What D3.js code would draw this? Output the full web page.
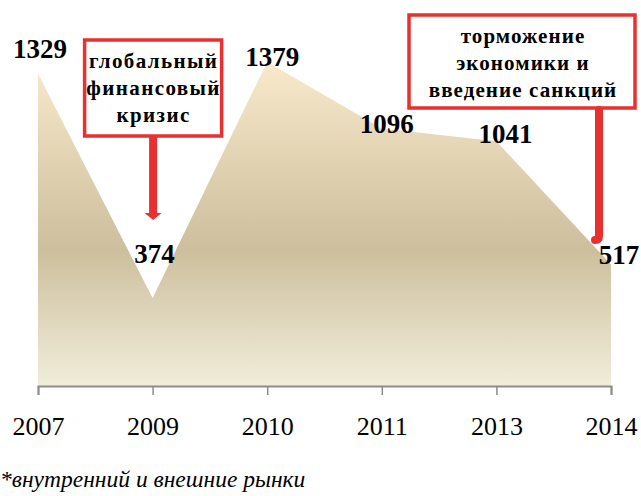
<!DOCTYPE html>
<html>
<head>
<meta charset="utf-8">
<script src="https://cdn.jsdelivr.net/npm/d3@7"></script>
<style>
  body { margin: 0; background: #fff; }
  svg { display: block; }
</style>
</head>
<body>
<script>
// данные
var years = ["2007", "2009", "2010", "2011", "2013", "2014"];
var values = [1329, 374, 1379, 1096, 1041, 517];
// сдвиг подписей значений относительно точки
var labelDx = [2, 2, 5, 5, 9, 8];
var labelDy = [-16, -35, 4, 5, 2, -1];

var callouts = [
  { lines: ["глобальный", "финансовый", "кризис"], year: "2009" },
  { lines: ["торможение", "экономики и", "введение санкций"], year: "2014" }
];
var footnote = "*внутренний и внешние рынки";

const width = 641, height = 496;
const serif = "'Liberation Serif', 'Times New Roman', serif";

var svg = d3.select("body").append("svg")
  .attr("width", width)
  .attr("height", height);

var x = d3.scalePoint().domain(years).range([38, 611]);
var y = d3.scaleLinear().domain([0, 1400]).range([386, 57]);

// градиент заливки
var grad = svg.append("defs").append("linearGradient")
  .attr("id", "fillGrad")
  .attr("gradientUnits", "userSpaceOnUse")
  .attr("x1", 0).attr("x2", 0)
  .attr("y1", y(1379)).attr("y2", y(0));
grad.append("stop").attr("offset", "0%").attr("stop-color", "#f7e9ca");
grad.append("stop").attr("offset", "58%").attr("stop-color", "#cdbf9d");
grad.append("stop").attr("offset", "100%").attr("stop-color", "#f1edda");

var data = years.map((d, i) => ({ year: d, value: values[i], i: i }));

var area = d3.area()
  .x(d => x(d.year))
  .y0(y(0))
  .y1(d => y(d.value));

svg.append("path")
  .datum(data)
  .attr("d", area)
  .attr("fill", "url(#fillGrad)");

// ось X
var xAxis = d3.axisBottom(x).tickSize(9).tickPadding(22);
var axisG = svg.append("g")
  .attr("transform", `translate(0,${y(0)})`)
  .call(xAxis)
  .attr("font-family", serif)
  .attr("font-size", 26);
axisG.select(".domain").attr("stroke", "#8c8c8c").attr("stroke-width", 2);
axisG.selectAll(".tick line").attr("stroke", "#8c8c8c").attr("stroke-width", 1.5);
axisG.selectAll(".tick text").attr("fill", "#000");

// подписи значений
svg.selectAll(".val").data(data).enter().append("text")
  .attr("class", "val")
  .attr("x", d => x(d.year) + labelDx[d.i])
  .attr("y", d => y(d.value) + labelDy[d.i])
  .attr("text-anchor", "middle")
  .attr("font-family", serif)
  .attr("font-size", 27)
  .attr("font-weight", "bold")
  .text(d => d.value);

// выноски
var red = "#e8302e";

// 1: глобальный финансовый кризис
var c1x = x(callouts[0].year);
svg.append("rect")
  .attr("x", c1x - 68).attr("y", 40)
  .attr("width", 137).attr("height", 96)
  .attr("fill", "#fff").attr("stroke", red).attr("stroke-width", 3.5);
svg.append("rect")
  .attr("x", c1x - 3.5).attr("y", 137)
  .attr("width", 8).attr("height", 77)
  .attr("fill", red);
svg.append("path")
  .attr("d", `M${c1x - 8},${213} L${c1x + 9},${213} L${c1x + 0.5},${220} Z`)
  .attr("fill", red);
callouts[0].lines.forEach((t, i) => {
  svg.append("text")
    .attr("x", c1x + 1).attr("y", 68 + i * 27)
    .attr("text-anchor", "middle")
    .attr("font-family", serif)
    .attr("font-size", 21)
    .attr("font-weight", "bold")
    .attr("letter-spacing", 1.4)
    .text(t);
});

// 2: торможение экономики
var c2x = x(callouts[1].year) - 12;
svg.append("rect")
  .attr("x", 409).attr("y", 15)
  .attr("width", 226).attr("height", 93)
  .attr("fill", "#fff").attr("stroke", red).attr("stroke-width", 3.5);
svg.append("path")
  .attr("d", `M${c2x},${110} L${c2x},${236} Q${c2x},${240} ${c2x - 4},${240}`)
  .attr("fill", "none")
  .attr("stroke", red)
  .attr("stroke-width", 8)
  .attr("stroke-linecap", "round");
callouts[1].lines.forEach((t, i) => {
  svg.append("text")
    .attr("x", 523).attr("y", 43 + i * 27)
    .attr("text-anchor", "middle")
    .attr("font-family", serif)
    .attr("font-size", 21)
    .attr("font-weight", "bold")
    .attr("letter-spacing", 1.1)
    .text(t);
});

// сноска
svg.append("text")
  .attr("x", 0).attr("y", 487)
  .attr("font-family", serif)
  .attr("font-size", 23.5)
  .attr("font-style", "italic")
  .text(footnote);
</script>
</body>
</html>
